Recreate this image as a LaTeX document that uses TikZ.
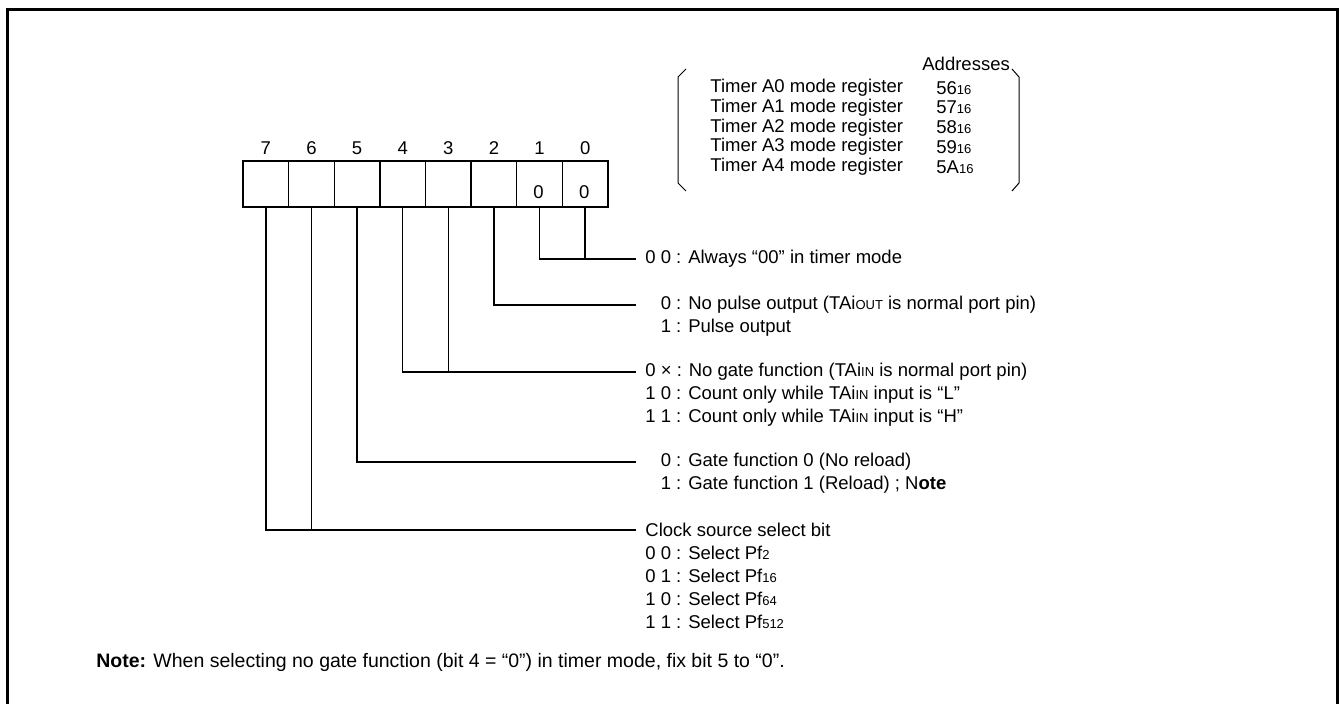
\documentclass[tikz,border=0pt]{standalone}
\usepackage{fontspec}
\setmainfont{Liberation Sans}
\usetikzlibrary{positioning}

\newcommand{\lowsub}[1]{{\fontsize{6.5pt}{7pt}\selectfont #1}}
\newcommand{\skipdigit}{\phantom{0 }}

\begin{document}
\begin{tikzpicture}[x=0.5pt,y=-0.5pt,
    every node/.style={font=\fontsize{9.25pt}{11pt}\selectfont, inner sep=0pt},
    bitcell/.style={draw, line width=0.7pt, minimum width=22.8pt, minimum height=23pt},
    wire/.style={line width=0.7pt},
    desc/.style={anchor=west, inner xsep=4.5pt}]
  \useasboundingbox (0,0) rectangle (1340,704);
  \draw[line width=1.5pt] (7,720) -- (7,10) -- (1337,10) -- (1337,720);

  % register cells and bit numbers
  \foreach \b [evaluate=\b as \x using {265.8+45.625*(7-\b)}] in {7,...,0} {
    \node[bitcell] (b\b) at (\x,184) {};
    \node (n\b) at (\x,148) {\b};
  }
  \node (z1) at (538.6,192) {0};
  \node (z0) at (584.2,192) {0};

  % address table
  \node[anchor=west] (hdr) at (922,64) {Addresses};
  \foreach \i/\a in {0/56,1/57,2/58,3/59,4/5A} {
    \node[anchor=west] (reg\i) at (710,{88+19.7*\i}) {Timer A\i\ mode register};
    \node[anchor=west] (adr\i) at (936,{88+19.7*\i}) {\a\lowsub{16}};
  }
  \draw[line width=0.5pt] (686,69) -- (678,77) -- (678,183) -- (686,191);
  \draw[line width=0.5pt] (1012,69) -- (1019,77) -- (1019,183) -- (1012,191);

  % bits 1,0
  \node[desc] (d10) at (636,259) {0 0 : Always “00” in timer mode};
  \draw[wire] (b1.south) |- (d10.west);
  \draw[wire] (b0.south) -- (b0.south |- d10.west);

  % bit 2
  \node[desc] (d2a) at (636,305) {\skipdigit 0 : No pulse output (TAi\lowsub{OUT} is normal port pin)};
  \node[desc] (d2b) at (636,328) {\skipdigit 1 : Pulse output};
  \draw[wire] (b2.south) |- (d2a.west);

  % bits 4,3
  \node[desc] (d43a) at (636,372) {0 × : No gate function (TAi\lowsub{IN} is normal port pin)};
  \node[desc] (d43b) at (636,395) {1 0 : Count only while TAi\lowsub{IN} input is “L”};
  \node[desc] (d43c) at (636,418) {1 1 : Count only while TAi\lowsub{IN} input is “H”};
  \draw[wire] (b4.south) |- (d43a.west);
  \draw[wire] (b3.south) -- (b3.south |- d43a.west);

  % bit 5
  \node[desc] (d5a) at (636,462) {\skipdigit 0 : Gate function 0 (No reload)};
  \node[desc] (d5b) at (636,485) {\skipdigit 1 : Gate function 1 (Reload) ; N\textbf{ote}};
  \draw[wire] (b5.south) |- (d5a.west);

  % bits 7,6
  \node[desc] (clk) at (636,530) {Clock source select bit};
  \foreach \k/\c/\f in {1/0 0/2,2/0 1/16,3/1 0/64,4/1 1/512} {
    \node[desc] (clk\k) at (636,{530+23*\k}) {\c\ : Select Pf\lowsub{\f}};
  }
  \draw[wire] (b7.south) |- (clk.west);
  \draw[wire] (b6.south) -- (b6.south |- clk.west);

  % footnote
  \node[anchor=west, font=\fontsize{9.75pt}{11pt}\selectfont] (note) at (96,662) {\textbf{Note:} When selecting no gate function (bit 4 = “0”) in timer mode, fix bit 5 to “0”.};
\end{tikzpicture}
\end{document}
